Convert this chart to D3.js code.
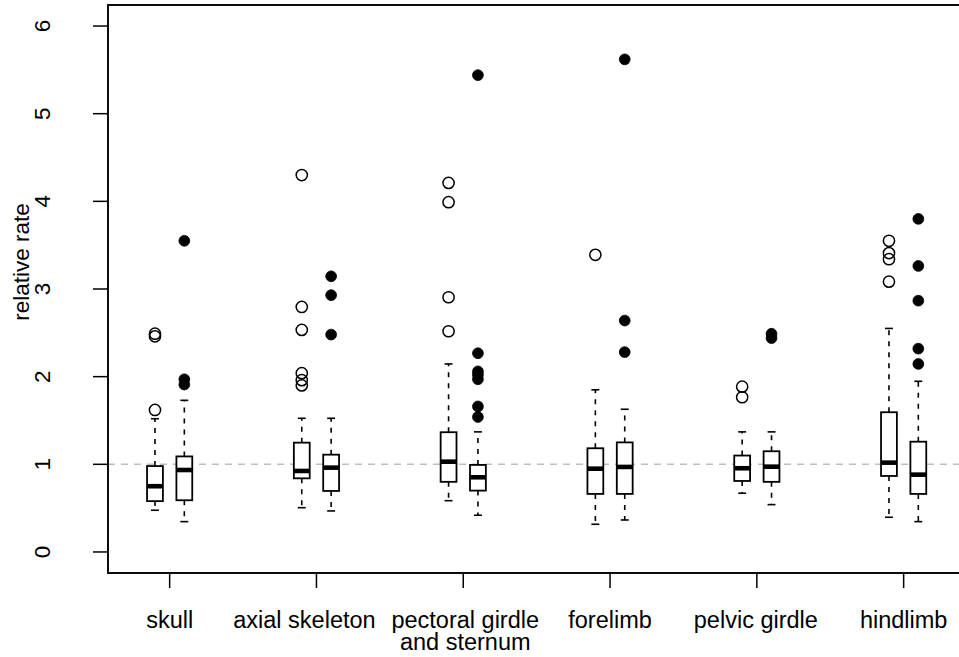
<!DOCTYPE html>
<html><head><meta charset="utf-8">
<script src="https://cdn.jsdelivr.net/npm/d3@7"></script>
<style>body{margin:0;background:#fff}svg{display:block}text{font-family:"Liberation Sans",Arial,sans-serif;fill:#000}</style>
</head><body>
<svg id="c" width="959" height="657"></svg>
<script>
const categories = ["skull","axial skeleton","pectoral girdle\nand sternum","forelimb","pelvic girdle","hindlimb"];
const yTicks = [0,1,2,3,4,5,6];
// [lower whisker, Q1, median, Q3, upper whisker]
const openStats = [
  [0.476,0.58,0.75,0.98,1.52],
  [0.505,0.84,0.924,1.247,1.525],
  [0.585,0.80,1.03,1.366,2.145],
  [0.316,0.662,0.95,1.183,1.85],
  [0.67,0.81,0.955,1.10,1.37],
  [0.396,0.867,1.019,1.594,2.55]
];
const openOutliers = [
  [1.62,2.46,2.49],
  [4.30,2.795,2.533,2.04,1.96,1.90],
  [4.21,3.99,2.906,2.518],
  [3.39],
  [1.886,1.765],
  [3.55,3.41,3.34,3.084]
];
const filledStats = [
  [0.346,0.59,0.935,1.09,1.73],
  [0.468,0.696,0.962,1.11,1.525],
  [0.419,0.70,0.852,0.993,1.37],
  [0.365,0.662,0.97,1.25,1.628],
  [0.54,0.80,0.973,1.149,1.37],
  [0.346,0.662,0.882,1.258,1.947]
];
const filledOutliers = [
  [3.55,1.97,1.91],
  [3.145,2.93,2.48],
  [5.44,2.267,2.06,2.02,1.97,1.66,1.54],
  [5.62,2.64,2.28],
  [2.49,2.44],
  [3.80,3.263,2.867,2.32,2.145]
];
const refLine = 1;

const svg = d3.select("#c");
const L = 108, R = 965.3, T = 5, B = 573;
const x = d3.scaleLinear().domain([0.58, 6.42]).range([L, R]);
const y = d3.scaleLinear().domain([-0.24, 6.24]).range([B, T]);
const FSX = 23.5, FSY = 22.5;
const labelShift = [0,-12,2,0,-1,0];

svg.append("line").attr("x1",L).attr("x2",R).attr("y1",y(refLine)).attr("y2",y(refLine))
  .attr("stroke","#bdbdbd").attr("stroke-width",1.5).attr("stroke-dasharray","7,6");

const off = 0.1, hw = 0.054, cw = 0.027;
function drawSeries(stats, outs, dx, filled){
  stats.forEach((s,i)=>{
    const c = i+1+dx;
    const g = svg.append("g");
    g.append("line").attr("x1",x(c)).attr("x2",x(c)).attr("y1",y(s[3])).attr("y2",y(s[4]))
      .attr("stroke","#000").attr("stroke-width",1.6).attr("stroke-dasharray","5,6");
    g.append("line").attr("x1",x(c)).attr("x2",x(c)).attr("y1",y(s[1])).attr("y2",y(s[0]))
      .attr("stroke","#000").attr("stroke-width",1.6).attr("stroke-dasharray","5,6");
    [s[0],s[4]].forEach(v=>g.append("line").attr("x1",x(c-cw)).attr("x2",x(c+cw))
      .attr("y1",y(v)).attr("y2",y(v)).attr("stroke","#000").attr("stroke-width",1.6));
    g.append("rect").attr("x",x(c-hw)).attr("width",x(c+hw)-x(c-hw))
      .attr("y",y(s[3])).attr("height",y(s[1])-y(s[3]))
      .attr("fill","#fff").attr("stroke","#000").attr("stroke-width",1.8);
    g.append("line").attr("x1",x(c-hw)).attr("x2",x(c+hw)).attr("y1",y(s[2])).attr("y2",y(s[2]))
      .attr("stroke","#000").attr("stroke-width",4.6);
    outs[i].forEach(v=>{
      g.append("circle").attr("cx",x(c)).attr("cy",y(v)).attr("r",filled?5.4:5.6)
        .attr("fill",filled?"#000":"none").attr("stroke","#000").attr("stroke-width",filled?0.8:1.5);
    });
  });
}
drawSeries(openStats, openOutliers, -off, false);
drawSeries(filledStats, filledOutliers, off, true);

svg.append("rect").attr("x",L).attr("y",T).attr("width",R-L).attr("height",B-T)
  .attr("fill","none").attr("stroke","#000").attr("stroke-width",1.9);

yTicks.forEach(t=>{
  svg.append("line").attr("x1",L-15).attr("x2",L).attr("y1",y(t)).attr("y2",y(t))
    .attr("stroke","#000").attr("stroke-width",1.5);
  svg.append("text").attr("transform",`translate(${50},${y(t)}) rotate(-90)`)
    .attr("text-anchor","middle").attr("font-size",FSY).text(t);
});
svg.append("text").attr("transform",`translate(${29},${262}) rotate(-90)`)
  .attr("text-anchor","middle").attr("font-size",FSY).text("relative rate");

categories.forEach((c,i)=>{
  const cx = x(i+1);
  svg.append("line").attr("x1",cx).attr("x2",cx).attr("y1",B).attr("y2",B+15)
    .attr("stroke","#000").attr("stroke-width",1.5);
  c.split("\n").forEach((ln,k)=>{
    svg.append("text").attr("text-anchor","middle").attr("font-size",FSX)
      .attr("x",cx+labelShift[i]).attr("y",B+55+k*21.5).text(ln);
  });
});
</script>
</body></html>
